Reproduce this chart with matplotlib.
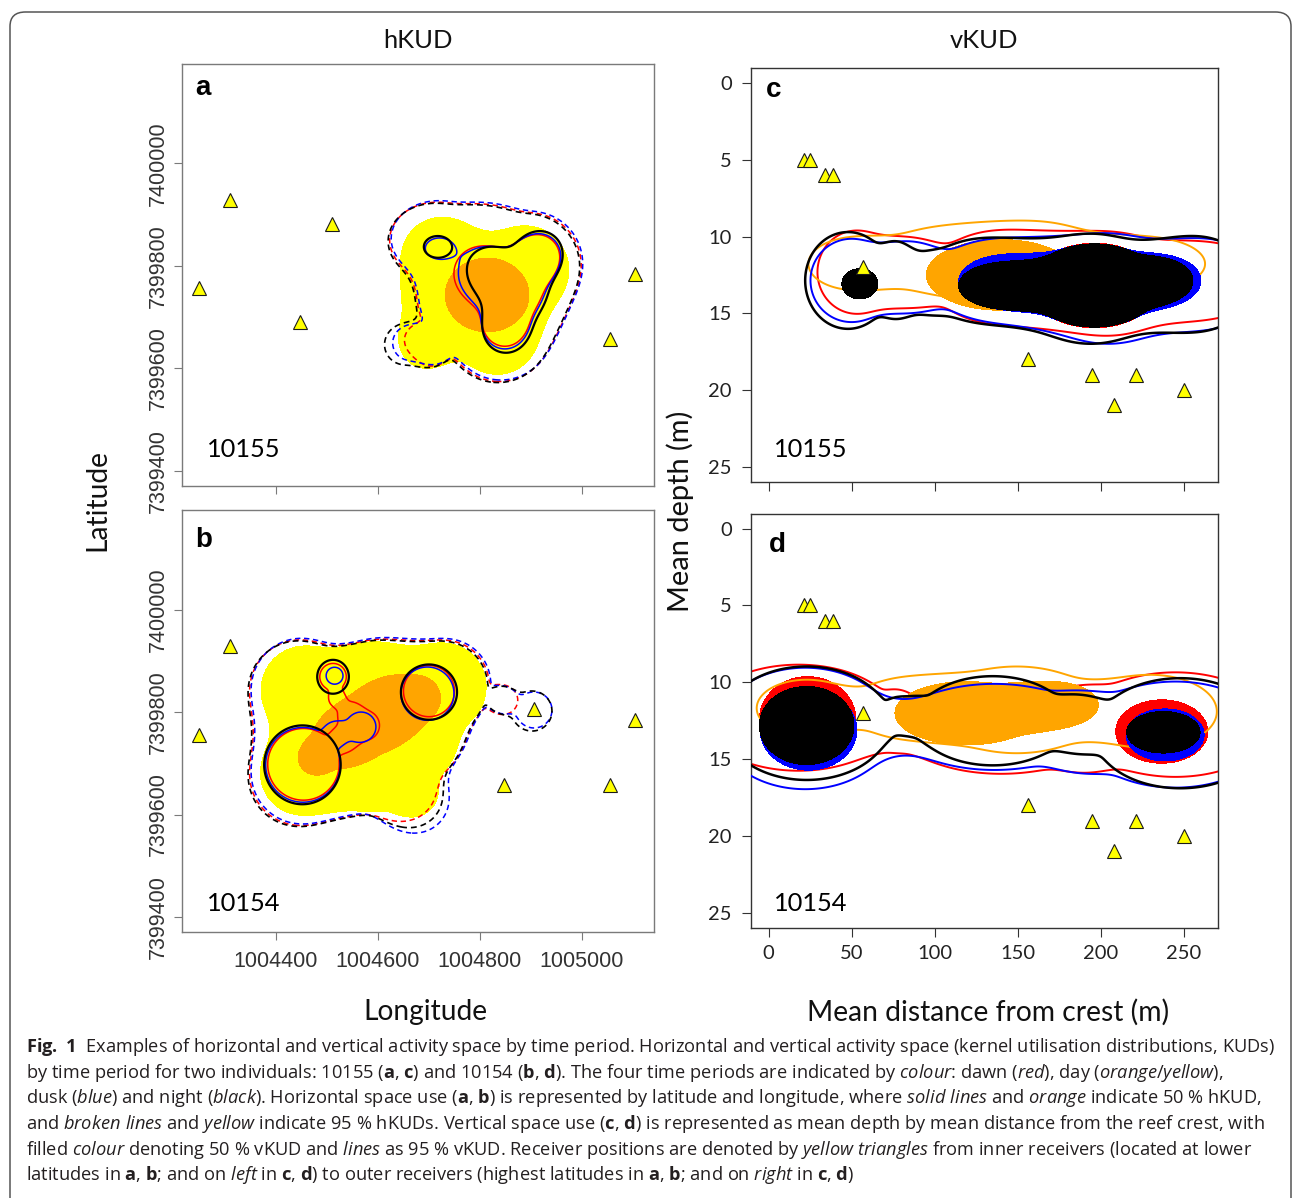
import numpy as np
import matplotlib
matplotlib.use("Agg")
import matplotlib.pyplot as plt
from matplotlib.patches import FancyBboxPatch

plt.rcParams['mathtext.fontset'] = 'custom'
plt.rcParams['mathtext.rm'] = 'Open Sans'
plt.rcParams['mathtext.it'] = 'Open Sans:italic'
plt.rcParams['mathtext.bf'] = 'Open Sans:bold'
plt.rcParams['font.family'] = ['Open Sans', 'DejaVu Sans']

# ------------------------------------------------------------------ data
# receiver positions
rec_a_lon = [1004310, 1004509, 1004250, 1004448, 1005104, 1005054]
rec_a_lat = [7399928, 7399882, 7399756, 7399691, 7399784, 7399658]
rec_b_lon = [1004310, 1004250, 1004906, 1004848, 1005054, 1005104]
rec_b_lat = [7399929, 7399756, 7399806, 7399657, 7399657, 7399784]
rec_v_dist = [21, 25, 34, 39, 57, 156, 195, 221, 208, 250]
rec_v_depth = [5, 5, 6, 6, 12, 18, 19, 19, 21, 20]

lon_ticks = [1004400, 1004600, 1004800, 1005000]
lat_ticks = [7399400, 7399600, 7399800, 7400000]
dist_ticks = [0, 50, 100, 150, 200, 250]
depth_ticks = [0, 5, 10, 15, 20, 25]

# kernel centres (x, y, bandwidth x, bandwidth y) for each utilisation distribution
# --- 10155 horizontal
a_day95 = [(1004726, 7399815, 80, 80), (1004888, 7399792, 86, 86), (1004834, 7399668, 80, 80),
           (1004693, 7399649, 47, 47), (1004726, 7399714, 72, 72)]
a_day50 = [(1004814, 7399743, 82, 72)]
a_dawn95 = [(1004715, 7399850, 92, 74), (1004897, 7399802, 101, 101), (1004809, 7399850, 55, 55),
            (1004838, 7399675, 101, 101), (1004750, 7399733, 68, 68), (1004701, 7399636, 29, 29),
            (1004678, 7399655, 25, 25)]
a_dusk95 = [(1004718, 7399853, 92, 74), (1004900, 7399805, 101, 101), (1004812, 7399853, 55, 55),
            (1004841, 7399678, 101, 101), (1004753, 7399736, 68, 68), (1004704, 7399639, 29, 29),
            (1004662, 7399649, 33, 33)]
a_night95 = [(1004712, 7399848, 92, 74), (1004894, 7399800, 101, 101), (1004806, 7399848, 55, 55),
             (1004835, 7399673, 101, 101), (1004747, 7399731, 68, 68), (1004698, 7399634, 29, 29),
             (1004652, 7399646, 39, 39)]
a_dawn50 = [(1004857, 7399757, 64, 64), (1004795, 7399788, 39, 39), (1004916, 7399821, 35, 35),
            (1004848, 7399679, 31, 31)]
a_dusk50 = [(1004861, 7399757, 64, 64), (1004803, 7399788, 37, 37), (1004918, 7399823, 35, 35),
            (1004848, 7399675, 33, 33), (1004720, 7399834, 27, 20)]
a_night50 = [(1004867, 7399753, 64, 64), (1004814, 7399796, 31, 31), (1004920, 7399827, 37, 37),
             (1004850, 7399669, 35, 35), (1004717, 7399837, 27, 21)]

# --- 10154 horizontal
b_day95 = [(1004457, 7399843, 86, 86), (1004592, 7399862, 74, 74), (1004726, 7399849, 86, 86),
           (1004450, 7399680, 80, 80), (1004592, 7399706, 100, 100), (1004673, 7399641, 39, 39),
           (1004691, 7399735, 55, 55)]
b_day50 = [(1004476, 7399710, 31, 31), (1004525, 7399745, 53, 53), (1004584, 7399780, 62, 62),
           (1004642, 7399813, 58, 58), (1004685, 7399829, 33, 33)]
b_dawn95 = [(1004447, 7399843, 98, 98), (1004603, 7399862, 78, 78), (1004730, 7399852, 88, 88),
            (1004447, 7399677, 98, 98), (1004594, 7399706, 98, 98), (1004701, 7399745, 59, 59),
            (1004848, 7399823, 25, 25), (1004655, 7399647, 51, 51)]
b_dusk95 = [(1004450, 7399846, 98, 98), (1004606, 7399865, 78, 78), (1004733, 7399855, 88, 88),
            (1004450, 7399680, 98, 98), (1004597, 7399709, 98, 98), (1004704, 7399748, 59, 59),
            (1004848, 7399823, 23, 23), (1004906, 7399804, 35, 35), (1004675, 7399628, 62, 62)]
b_night95 = [(1004444, 7399841, 98, 98), (1004600, 7399860, 78, 78), (1004727, 7399850, 88, 88),
             (1004444, 7399675, 98, 98), (1004591, 7399704, 98, 98), (1004698, 7399743, 59, 59),
             (1004848, 7399823, 23, 23), (1004902, 7399802, 39, 39), (1004668, 7399634, 55, 55)]
b_dawn50 = [(1004454, 7399698, 70, 70), (1004700, 7399841, 50, 50), (1004512, 7399869, 26, 26),
            (1004520, 7399826, 16, 16), (1004545, 7399797, 23, 23), (1004574, 7399774, 29, 29),
            (1004538, 7399751, 24, 24)]
b_dusk50 = [(1004453, 7399697, 73, 73), (1004697, 7399836, 52, 52), (1004515, 7399871, 16.5, 16.5),
            (1004567, 7399771, 29, 29), (1004520, 7399760, 20, 20)]
b_night50 = [(1004452, 7399697, 75, 77), (1004700, 7399839, 55, 54), (1004512, 7399869, 31, 33)]

# --- 10155 vertical (distance m, depth m)
c_dawn50 = [(137, 13.1, 28, 1.5), (196.2, 13.19, 38.7, 2.75), (237.1, 12.86, 17.2, 1.19)]
c_day50 = [(140, 12.5, 45, 2.3)]
c_dusk50 = [(141.4, 12.95, 26.9, 1.7), (196.2, 13.19, 38.7, 2.71), (239.2, 12.86, 20.4, 1.41)]
c_night50 = [(140.3, 13.2, 25.8, 1.45), (196.2, 13.19, 38.7, 2.71), (237.1, 12.86, 17.2, 1.19),
             (54.9, 13.08, 10.8, 0.98)]
c_dawn95 = [(53.1, 12.32, 23.7, 2.71), (84, 12.3, 18, 2.0), (140.3, 12.65, 43, 3.04),
            (204.8, 13.08, 43, 3.36), (265, 12.86, 32.3, 2.39)]
c_day95 = [(49.9, 11.78, 25.8, 1.63), (108, 11.56, 43, 2.17), (161.8, 11.78, 43, 2.71),
           (226.3, 11.78, 36.6, 1.74)]
c_dusk95 = [(49.9, 12.86, 24.7, 2.71), (84, 12.6, 18, 2.1), (140.3, 12.86, 43, 2.71),
            (204.8, 13.4, 43, 3.58), (265, 13.08, 32.3, 2.82)]
c_night95 = [(47.8, 12.86, 25.8, 3.15), (78, 12.8, 10, 2.1), (92, 13.1, 16, 1.6),
             (129.5, 12.86, 36.6, 2.71), (194.1, 13.4, 43, 3.58), (258.6, 13.08, 32.3, 3.04)]

# --- 10154 vertical
d_dawn50 = [(23.5, 12.45, 29.1, 2.82), (236.8, 13.2, 27.7, 2.06)]
d_day50 = [(119.3, 12.01, 43.2, 2.06), (169.5, 11.47, 29.1, 1.52)]
d_dusk50 = [(24.0, 13.1, 29.1, 2.61), (238.8, 13.42, 23.5, 1.69)]
d_night50 = [(22.9, 12.81, 28.5, 2.54), (237.8, 13.25, 22.1, 1.35)]
d_dawn95 = [(18, 12.3, 58, 3.45), (78, 12.35, 10, 1.45), (140, 13.1, 60, 2.85),
            (190, 13.1, 20, 2.3), (245, 12.75, 58, 3.4)]
d_day95 = [(22.9, 11.68, 30.1, 1.85), (89.2, 11.68, 40.2, 2.06), (149.4, 11.79, 50.2, 2.82),
           (229.8, 11.9, 40.2, 2.39)]
d_dusk95 = [(22, 13.0, 52, 3.95), (136, 12.9, 58, 2.8), (188, 13.3, 22, 2.2),
            (245, 13.4, 56, 3.45)]
d_night95 = [(22.9, 12.66, 50, 3.69), (79, 11.9, 7, 0.7), (86, 12.1, 12, 0.95),
             (135, 12.5, 46, 2.9), (187, 12.7, 16, 1.6), (248, 13.31, 52, 3.58)]

caption_lines = [
    r"$\mathbf{Fig.\ 1}$  Examples of horizontal and vertical activity space by time period. Horizontal and vertical activity space (kernel utilisation distributions, KUDs)",
    r"by time period for two individuals: 10155 ($\mathbf{a}$, $\mathbf{c}$) and 10154 ($\mathbf{b}$, $\mathbf{d}$). The four time periods are indicated by $\mathit{colour}$: dawn ($\mathit{red}$), day ($\mathit{orange/yellow}$),",
    r"dusk ($\mathit{blue}$) and night ($\mathit{black}$). Horizontal space use ($\mathbf{a}$, $\mathbf{b}$) is represented by latitude and longitude, where $\mathit{solid\ lines}$ and $\mathit{orange}$ indicate 50 % hKUD,",
    r"and $\mathit{broken\ lines}$ and $\mathit{yellow}$ indicate 95 % hKUDs. Vertical space use ($\mathbf{c}$, $\mathbf{d}$) is represented as mean depth by mean distance from the reef crest, with",
    r"filled $\mathit{colour}$ denoting 50 % vKUD and $\mathit{lines}$ as 95 % vKUD. Receiver positions are denoted by $\mathit{yellow\ triangles}$ from inner receivers (located at lower",
    r"latitudes in $\mathbf{a}$, $\mathbf{b}$; and on $\mathit{left}$ in $\mathbf{c}$, $\mathbf{d}$) to outer receivers (highest latitudes in $\mathbf{a}$, $\mathbf{b}$; and on $\mathit{right}$ in $\mathbf{c}$, $\mathbf{d}$)",
]

# ------------------------------------------------------------------ style
RED, ORANGE, YELLOW, BLUE, BLACK = '#FF0000', '#FFA500', '#FFFF00', '#0000FF', '#000000'
W, H, DPI = 1293, 1198, 100

fig = plt.figure(figsize=(W / DPI, H / DPI), dpi=DPI)
fig.patch.set_facecolor('white')


def fpos(l, t, r, b):
    return [l / W, 1 - b / H, (r - l) / W, (b - t) / H]


def field(xx, yy, blobs, power):
    f = np.zeros_like(xx)
    for cx, cy, rx, ry in blobs:
        q = ((xx - cx) / rx) ** 2 + ((yy - cy) / ry) ** 2
        f += np.exp2(-q ** power)
    return f


def fill(ax, xx, yy, blobs, col, z, power=1.5):
    ax.contourf(xx, yy, field(xx, yy, blobs, power), levels=[0.5, 1e6], colors=[col], zorder=z)


def line(ax, xx, yy, blobs, col, lw, z, dashed=False, power=1.5):
    cs = ax.contour(xx, yy, field(xx, yy, blobs, power), levels=[0.5], colors=[col],
                    linewidths=lw, zorder=z)
    if dashed:
        cs.set_linestyle((0, (3.5, 2.4)))
    return cs


def style_h(ax, show_x):
    ax.set_xlim(1004216, 1005141)
    ax.set_ylim(7399370, 7400194)
    for s in ax.spines.values():
        s.set_color('#7a7a7a')
        s.set_linewidth(1.0)
    ax.set_xticks(lon_ticks)
    ax.set_xticklabels([str(v) for v in lon_ticks] if show_x else [])
    ax.set_yticks(lat_ticks)
    ax.set_yticklabels([str(v) for v in lat_ticks], rotation=90, va='center')
    ax.tick_params(direction='out', length=5.8, width=0.8, color='#7a7a7a',
                   labelcolor='#333333', labelsize=15.5)
    ax.tick_params(axis='x', pad=7.5)
    ax.tick_params(axis='y', pad=4)
    for lab in ax.get_xticklabels() + ax.get_yticklabels():
        lab.set_family('Liberation Sans')


def style_v(ax, show_x):
    ax.set_xlim(-10.4, 270.4)
    ax.set_ylim(26, -0.95)
    for s in ax.spines.values():
        s.set_color('#333333')
        s.set_linewidth(1.0)
    ax.set_xticks(dist_ticks)
    ax.set_xticklabels([str(v) for v in dist_ticks] if show_x else [])
    ax.set_yticks(depth_ticks)
    ax.set_yticklabels([str(v) for v in depth_ticks])
    ax.tick_params(direction='out', length=6.5, width=0.8, color='#333333',
                   labelcolor='#222222', labelsize=14.5)
    ax.tick_params(axis='x', pad=5.8)
    ax.tick_params(axis='y', pad=7.5)
    for lab in ax.get_xticklabels() + ax.get_yticklabels():
        lab.set_family('Lato')


hx, hy = np.meshgrid(np.linspace(1004050, 1005300, 700), np.linspace(7399250, 7400300, 600))
vx, vy = np.meshgrid(np.linspace(-80, 340, 900), np.linspace(-3, 29, 520))


def hpanel(ax, day95, day50, dawn95, dusk95, night95, dawn50, dusk50, night50, rlon, rlat,
           core_power):
    fill(ax, hx, hy, day95, YELLOW, 1)
    fill(ax, hx, hy, day50, ORANGE, 2)
    line(ax, hx, hy, dawn95, RED, 1.1, 3, dashed=True)
    line(ax, hx, hy, dusk95, BLUE, 1.1, 4, dashed=True)
    line(ax, hx, hy, night95, BLACK, 1.2, 5, dashed=True)
    line(ax, hx, hy, dawn50, RED, 1.1, 6, power=core_power)
    line(ax, hx, hy, dusk50, BLUE, 1.1, 7, power=core_power)
    line(ax, hx, hy, night50, BLACK, 1.6, 8, power=core_power)
    ax.plot(rlon, rlat, linestyle='none', marker='^', ms=9.5, mfc=YELLOW, mec='#1a1a1a',
            mew=0.8, zorder=10)


def vpanel(ax, periods, power):
    z = 1
    for f50, l95, col, lw in periods:
        fill(ax, vx, vy, f50, col, z, power=power)
        line(ax, vx, vy, l95, col, lw, z + 1, power=power)
        z += 2
    ax.plot(rec_v_dist, rec_v_depth, linestyle='none', marker='^', ms=9.5, mfc=YELLOW,
            mec='#1a1a1a', mew=0.8, zorder=20)


ax_a = fig.add_axes(fpos(182, 64, 654, 486))
ax_b = fig.add_axes(fpos(182, 510.3, 654, 932.3))
ax_c = fig.add_axes(fpos(751.4, 68.3, 1217.5, 482.3))
ax_d = fig.add_axes(fpos(751.4, 514, 1217.5, 928.3))

hpanel(ax_a, a_day95, a_day50, a_dawn95, a_dusk95, a_night95, a_dawn50, a_dusk50, a_night50,
       rec_a_lon, rec_a_lat, 1.0)
hpanel(ax_b, b_day95, b_day50, b_dawn95, b_dusk95, b_night95, b_dawn50, b_dusk50, b_night50,
       rec_b_lon, rec_b_lat, 1.5)
style_h(ax_a, False)
style_h(ax_b, True)

vpanel(ax_c, [(c_dawn50, c_dawn95, RED, 1.4), (c_day50, c_day95, ORANGE, 1.4),
              (c_dusk50, c_dusk95, BLUE, 1.4), (c_night50, c_night95, BLACK, 1.8)], 1.5)
vpanel(ax_d, [(d_dawn50, d_dawn95, RED, 1.4), (d_day50, d_day95, ORANGE, 1.4),
              (d_dusk50, d_dusk95, BLUE, 1.4), (d_night50, d_night95, BLACK, 1.8)], 2.0)
style_v(ax_c, False)
style_v(ax_d, True)

renderer = fig.canvas.get_renderer()


def fit(t, target, vertical=False):
    bb = t.get_window_extent(renderer=renderer)
    size = bb.height if vertical else bb.width
    t.set_fontsize(t.get_fontsize() * target / size)


def ftext(x, y, s, **kw):
    return fig.text(x / W, 1 - y / H, s, **kw)


# panel letters
for (x, y, s) in [(195, 95, 'a'), (195, 547, 'b'), (765.7, 96.7, 'c'), (768.6, 551.7, 'd')]:
    ftext(x, y, s, ha='left', va='baseline', fontsize=20, fontweight='bold',
          family='Liberation Sans', color='black')

# individual ids
for (x, y, s) in [(207, 457.3, '10155'), (207, 910.7, '10154'), (773.6, 456.7, '10155'),
                  (773.6, 910.7, '10154')]:
    t = ftext(x, y, s, ha='left', va='baseline', fontsize=18, family='Lato', color='black')
    fit(t, 74)

# titles
t = ftext(418, 40, 'hKUD', ha='center', va='center', fontsize=18, family='Lato', color='#111111')
fit(t, 69)
t = ftext(984, 40, 'vKUD', ha='center', va='center', fontsize=18, family='Lato', color='#111111')
fit(t, 68)
t = ftext(425, 1012, 'Longitude', ha='center', va='center', fontsize=20, family='Lato', color='#111111')
fit(t, 124)
t = ftext(988, 1012, 'Mean distance from crest (m)', ha='center', va='center', fontsize=20,
          family='Lato', color='#111111')
fit(t, 362)
t = ftext(97, 500, 'Latitude', ha='center', va='center', rotation=90, fontsize=20, family='Lato',
          color='#111111')
fit(t, 102, vertical=True)
t = ftext(680, 511, 'Mean depth (m)', ha='center', va='center', rotation=90, fontsize=20,
          family='Lato', color='#111111')
fit(t, 202, vertical=True)

# caption
caps = []
for i, s in enumerate(caption_lines):
    caps.append(ftext(26, 1052 + 25.7 * i, s, ha='left', va='baseline', fontsize=13,
                      family='Open Sans', color='#231f20'))
bb = caps[0].get_window_extent(renderer=renderer)
scale = 1246 / bb.width
for c in caps:
    c.set_fontsize(13 * scale)

# rounded frame
frame = FancyBboxPatch((10 / W, -0.02), (1291 - 10) / W, (1198 - 12) / H + 0.02,
                       boxstyle='round,pad=0,rounding_size=0.012', transform=fig.transFigure,
                       fill=False, ec='#555555', lw=1.1)
fig.add_artist(frame)

fig.savefig('out.png', dpi=DPI, facecolor='white')
